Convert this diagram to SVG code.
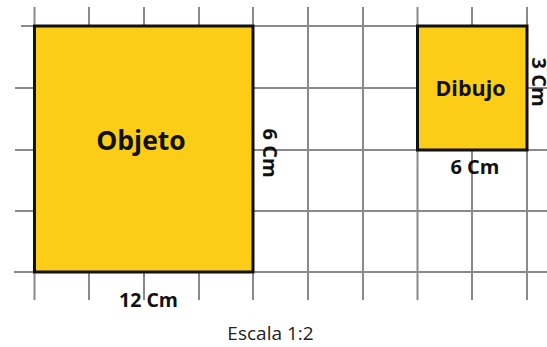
<svg xmlns="http://www.w3.org/2000/svg" width="547" height="347" viewBox="0 0 547 347">
  <style>
    .grid { stroke: #8a8a8a; stroke-width: 2; fill: none; }
    .shape { fill: #FCCD16; stroke: #111; stroke-width: 3; }
    .lbl { font-family: "Open Sans", "Liberation Sans", sans-serif; font-weight: 700; fill: #111; text-anchor: middle; }
    .cap { font-family: "Open Sans", "Liberation Sans", sans-serif; font-weight: 400; fill: #222; text-anchor: middle; }
  </style>
  <rect width="547" height="347" fill="#ffffff"/>
  <g id="grid" class="grid">
    <line x1="34.5" y1="7" x2="34.5" y2="300"/>
    <line x1="89" y1="7" x2="89" y2="300"/>
    <line x1="144" y1="7" x2="144" y2="300"/>
    <line x1="199" y1="7" x2="199" y2="300"/>
    <line x1="253" y1="7" x2="253" y2="300"/>
    <line x1="308" y1="7" x2="308" y2="300"/>
    <line x1="363" y1="7" x2="363" y2="300"/>
    <line x1="417.5" y1="7" x2="417.5" y2="300"/>
    <line x1="472" y1="7" x2="472" y2="300"/>
    <line x1="527" y1="7" x2="527" y2="300"/>
    <line x1="21" y1="26" x2="527" y2="26"/>
    <line x1="15" y1="88" x2="547" y2="88"/>
    <line x1="15" y1="150" x2="547" y2="150"/>
    <line x1="15" y1="211" x2="547" y2="211"/>
    <line x1="14" y1="272" x2="547" y2="272"/>
  </g>
  <g id="objeto">
    <rect class="shape" x="34.5" y="26" width="218.5" height="246"/>
    <text class="lbl" x="141" y="150" font-size="26.5">Objeto</text>
  </g>
  <g id="dibujo">
    <rect class="shape" x="417.5" y="26" width="109.5" height="124"/>
    <text class="lbl" x="470.5" y="96" font-size="21.5">Dibujo</text>
  </g>
  <g id="labels">
    <text class="lbl" x="148.5" y="306.5" font-size="19.5">12 Cm</text>
    <text class="lbl" font-size="20" transform="translate(263,153) rotate(90)">6 Cm</text>
    <text class="lbl" x="475" y="173.5" font-size="20">6 Cm</text>
    <text class="lbl" font-size="20" transform="translate(532,82) rotate(90)">3 Cm</text>
    <text class="cap" x="270.5" y="339.5" font-size="19">Escala 1:2</text>
  </g>
</svg>
